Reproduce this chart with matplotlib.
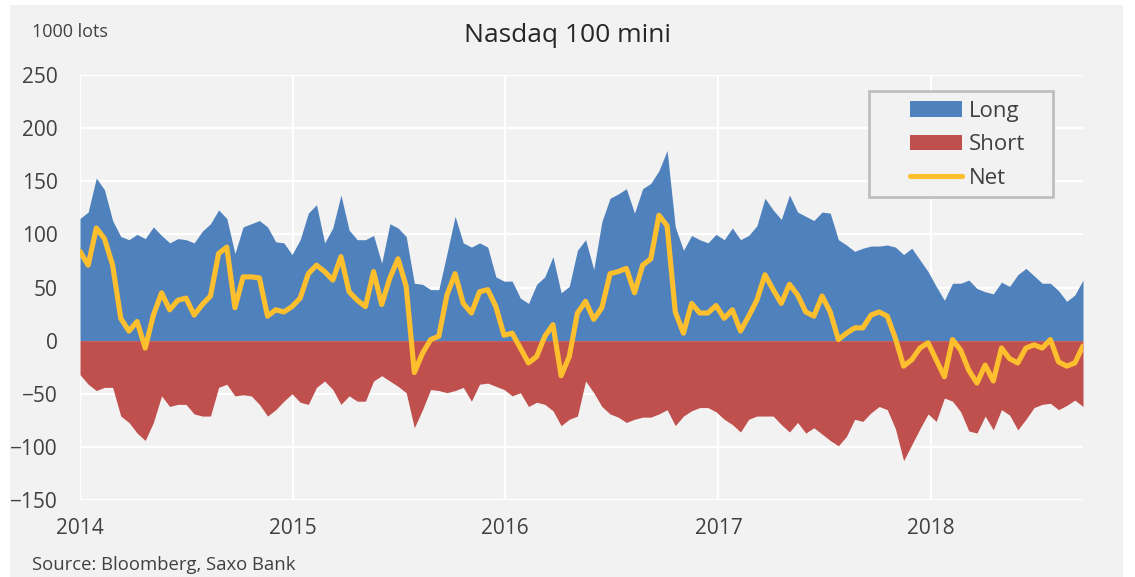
"""
Posiciones COT Nasdaq 100 mini: largos, cortos y neto (miles de lotes).
"""
import pandas as pd
import matplotlib
matplotlib.use("Agg")
import matplotlib.pyplot as plt
import matplotlib.dates as mdates
from matplotlib.patches import Rectangle

# datos, cada dos semanas desde ene-2014
fechas = pd.date_range("2014-01-01", periods=124, freq="14D")

largos = [115, 121, 153, 142, 113, 98, 95, 100, 96, 107, 99, 92, 96, 95, 92, 103, 110, 123, 115, 82,
          107, 110, 113, 107, 93, 92, 81,
          95, 120, 128, 92, 106, 137, 104, 95, 95, 99, 73, 110, 106, 98, 54, 53, 48, 48, 82, 117,
          92, 88, 92, 88, 60, 56,
          56, 40, 35, 53, 60, 79, 45, 51, 85, 95, 67, 112, 134, 138, 143, 120, 143, 148, 160, 179,
          107, 85, 99, 95, 92, 100,
          95, 106, 95, 99, 108, 134, 123, 114, 137, 121, 117, 113, 121, 120, 95, 90, 84, 87, 89, 89,
          90, 88, 81, 87, 76, 65,
          51, 38, 54, 54, 57, 49, 46, 44, 55, 51, 62, 68, 61, 54, 54, 47, 37, 43, 57]

cortos = [-32, -41, -47, -44, -44, -71, -77, -87, -94, -77, -52, -62, -60, -60, -69, -71, -71, -44,
          -41, -52, -51, -52, -60, -71, -65, -57, -50,
          -58, -60, -44, -38, -46, -60, -52, -57, -57, -38, -33, -38, -43, -49, -82, -65, -46, -47,
          -49, -47, -44, -57, -41, -40, -43, -46,
          -52, -49, -62, -58, -60, -66, -80, -74, -71, -38, -49, -62, -69, -72, -77, -74, -72, -72,
          -69, -65, -80, -71, -66, -63, -63, -67,
          -74, -79, -86, -74, -71, -71, -71, -79, -86, -77, -87, -82, -88, -94, -99, -90, -74, -76,
          -68, -62, -65, -83, -113, -98, -83, -69,
          -76, -54, -57, -67, -85, -87, -71, -84, -65, -70, -84, -74, -63, -60, -59, -65, -61, -56, -62]

neto = [84, 71, 106, 96, 71, 21, 9, 18, -7, 24, 45, 29, 38, 40, 24, 34, 42, 82, 88, 31,
        60, 60, 59, 23, 29, 27, 32,
        40, 63, 71, 65, 57, 79, 46, 38, 32, 65, 34, 59, 77, 51, -30, -12, 1, 4, 43, 63,
        35, 26, 46, 48, 32, 5,
        7, -7, -21, -15, 4, 15, -33, -15, 26, 37, 20, 31, 63, 65, 68, 45, 71, 77, 118, 108,
        27, 7, 35, 26, 26, 33,
        21, 29, 9, 23, 38, 62, 48, 35, 53, 43, 27, 23, 42, 27, 1, 7, 12, 12, 24, 27,
        23, 2, -24, -18, -7, -2,
        -18, -34, 1, -9, -28, -40, -23, -38, -7, -17, -21, -7, -4, -7, 1, -20, -24, -21, -5]

y_ticks = [250, 200, 150, 100, 50, 0, -50, -100, -150]
anios = ["2014", "2015", "2016", "2017", "2018"]

# estilo
FONDO = "#f2f2f2"
AZUL = "#4f81bd"
ROJO = "#c0504d"
AMARILLO = "#fdbf2d"
TEXTO = "#404040"
plt.rcParams["font.family"] = ["Open Sans", "DejaVu Sans"]

fig = plt.figure(figsize=(11.35, 5.77), dpi=100, facecolor="white")
fig.patches.append(Rectangle((10 / 1135, 0), 1113 / 1135, 572 / 577, transform=fig.transFigure,
                             facecolor=FONDO, edgecolor="none", zorder=-1))
ax = fig.add_axes([80 / 1135, 1 - 500 / 577, 1003 / 1135, 425 / 577])
ax.set_facecolor(FONDO)

ax.fill_between(fechas, 0, largos, color=AZUL, linewidth=0, label="Long", zorder=2)
ax.fill_between(fechas, 0, cortos, color=ROJO, linewidth=0, label="Short", zorder=2)
ax.plot(fechas, neto, color=AMARILLO, linewidth=3.7, label="Net", zorder=3,
        solid_joinstyle="round", solid_capstyle="round")

ax.set_xlim(fechas[0], fechas[-1])
ax.set_ylim(-150, 250)
ax.set_yticks(y_ticks)
ax.set_xticks([pd.Timestamp(a + "-01-01") for a in anios])
ax.xaxis.set_major_formatter(mdates.DateFormatter("%Y"))
ax.tick_params(axis="both", length=0, labelsize=15, labelcolor=TEXTO)
ax.tick_params(axis="y", pad=16)
ax.tick_params(axis="x", pad=13)
ax.grid(True, color="white", linewidth=1.6, zorder=1)
ax.set_axisbelow(True)
for s in ax.spines.values():
    s.set_visible(False)

# leyenda con caja dibujada aparte
ax.add_patch(Rectangle((0.7866, 0.713), 0.1834, 0.249, transform=ax.transAxes,
                       facecolor=FONDO, edgecolor="#bfbfbf", linewidth=2, zorder=5))
leg = ax.legend(loc="upper left", bbox_to_anchor=(0.8275, 0.94), frameon=False,
                fontsize=16, handlelength=2.35, handletextpad=0.3, labelspacing=0.57,
                borderpad=0, borderaxespad=0)
leg.set_zorder(6)
for t in leg.get_texts():
    t.set_color(TEXTO)

fig.text(0.5, 1 - 35 / 577, "Nasdaq 100 mini", ha="center", va="center", fontsize=19, color="#262626")
fig.text(32 / 1135, 1 - 32 / 577, "1000 lots", ha="left", va="center", fontsize=13, color=TEXTO)
fig.text(32 / 1135, 1 - 565 / 577, "Source: Bloomberg, Saxo Bank", ha="left", va="center",
         fontsize=13.3, color=TEXTO)

fig.savefig("out.png", dpi=100, facecolor=fig.get_facecolor())
